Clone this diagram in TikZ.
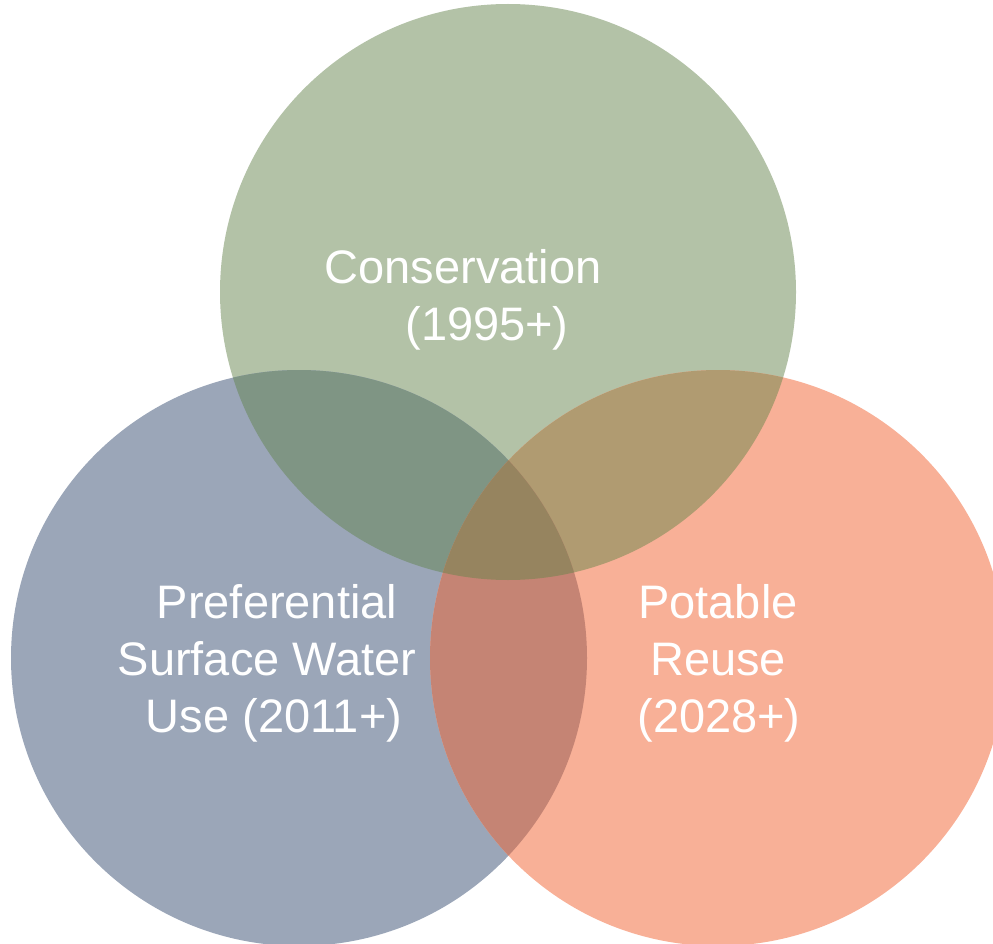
\documentclass[tikz,border=0pt]{standalone}
\usepackage{fontspec}
\setmainfont{Liberation Sans}
\definecolor{cgreen}{HTML}{B3C2A7}
\definecolor{cblue}{HTML}{9BA6B8}
\definecolor{csalmon}{HTML}{F8B097}
\definecolor{cgb}{HTML}{7F9584}
\definecolor{cgs}{HTML}{B09B71}
\definecolor{cbs}{HTML}{C58474}
\definecolor{call}{HTML}{96845F}
\begin{document}
\begin{tikzpicture}[x=1pt,y=-1pt,
  lbl/.style={text=white, font=\fontsize{47}{57}\selectfont, anchor=base, inner sep=0pt}]
\useasboundingbox (0,0) rectangle (993,944);
\def\Tcirc{(508,292) circle[radius=288]}
\def\Lcirc{(299,658) circle[radius=288]}
\def\Rcirc{(718,658) circle[radius=288]}
\fill[cgreen] \Tcirc;
\fill[cblue] \Lcirc;
\fill[csalmon] \Rcirc;
\begin{scope}\clip \Tcirc; \fill[cgb] \Lcirc;\end{scope}
\begin{scope}\clip \Tcirc; \fill[cgs] \Rcirc;\end{scope}
\begin{scope}\clip \Lcirc; \fill[cbs] \Rcirc;\end{scope}
\begin{scope}\clip \Tcirc; \clip \Lcirc; \fill[call] \Rcirc;\end{scope}
\node[lbl] (t1) at (463,283) {Conservation};
\node[lbl] (t2) at (487,340) {(1995+)};
\node[lbl] (l1) at (277,618) {Preferential};
\node[lbl] (l2) at (267,675) {Surface Water};
\node[lbl] (l3) at (274,732) {Use (2011+)};
\node[lbl] (r1) at (718,618) {Potable};
\node[lbl] (r2) at (718,675) {Reuse};
\node[lbl] (r3) at (719,732) {(2028+)};
\end{tikzpicture}
\end{document}
